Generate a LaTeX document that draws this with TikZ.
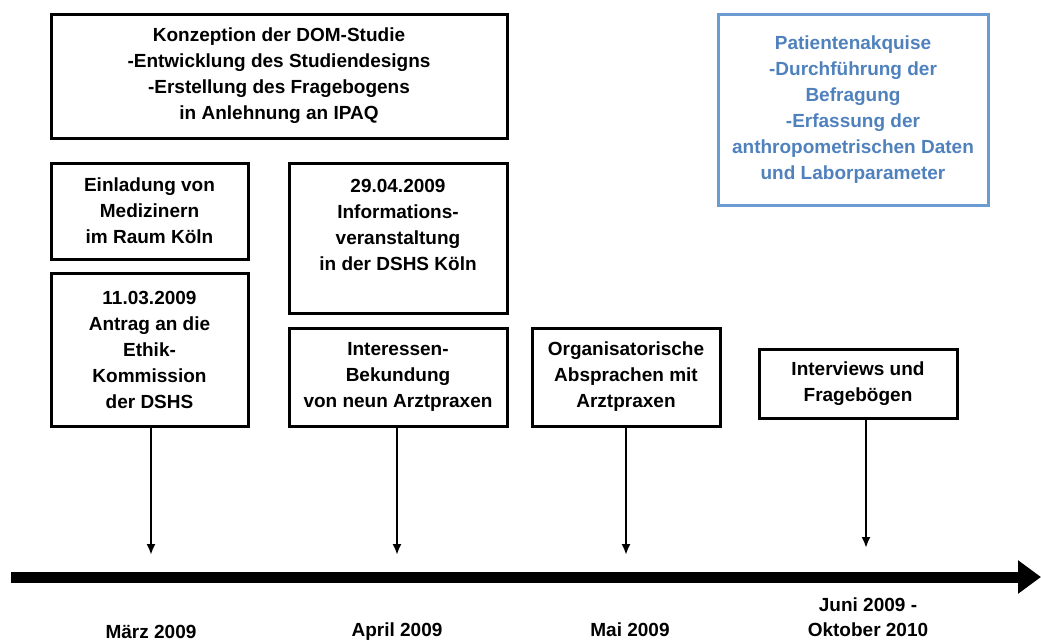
\documentclass[tikz,border=0pt]{standalone}
\usepackage{fontspec}
\setmainfont{Liberation Sans}
\usetikzlibrary{arrows.meta}
\definecolor{blautext}{RGB}{79,129,189}
\definecolor{blaurand}{RGB}{108,155,210}
\tikzset{
  kasten/.style={draw,line width=3pt,align=center,inner sep=0pt,
    font=\fontsize{19}{26}\selectfont\bfseries},
  pfeil/.style={line width=2.2pt,-{Latex[length=11pt,width=9pt]}},
  monat/.style={align=center,font=\fontsize{19}{25}\selectfont\bfseries}
}
\begin{document}
\begin{tikzpicture}[x=1pt,y=-1pt]
\useasboundingbox (0,0) rectangle (1041,641);
\node[kasten,minimum width=456,minimum height=124] (konzept) at (279,76) {Konzeption der DOM-Studie\\-Entwicklung des Studiendesigns\\-Erstellung des Fragebogens\\in Anlehnung an IPAQ};
\node[kasten,draw=blaurand,text=blautext,minimum width=270,minimum height=191] (akquise) at (853,110) {Patientenakquise\\-Durchführung der\\Befragung\\-Erfassung der\\anthropometrischen Daten\\und Laborparameter};
\node[kasten,minimum width=197,minimum height=96] (einladung) at (149.5,211) {Einladung von\\Medizinern\\im Raum Köln};
\node[kasten,minimum width=197,minimum height=153] (antrag) at (149.5,349.5) {11.03.2009\\Antrag an die\\Ethik-\\Kommission\\der DSHS};
\node[kasten,minimum width=218,minimum height=150] (info) at (398,238) {29.04.2009\\Informations-\\veranstaltung\\in der DSHS Köln\\\mbox{}};
\node[kasten,minimum width=218,minimum height=98] (interesse) at (398,377) {Interessen-\\Bekundung\\von neun Arztpraxen};
\node[kasten,minimum width=188,minimum height=98] (orga) at (626,377) {Organisatorische\\Absprachen mit\\Arztpraxen};
\node[kasten,minimum width=198,minimum height=69] (interviews) at (858,383.5) {Interviews und\\Fragebögen};
\coordinate (z1) at (151,555);
\coordinate (z2) at (397,555);
\coordinate (z3) at (626,555);
\coordinate (z4) at (866,548);
\draw[pfeil] (antrag.south -| z1) -- (z1);
\draw[pfeil] (interesse.south -| z2) -- (z2);
\draw[pfeil] (orga.south -| z3) -- (z3);
\draw[pfeil] (interviews.south -| z4) -- (z4);
\coordinate (achse0) at (11,577);
\coordinate (achse1) at (1041,577);
\draw[line width=11pt,-{Triangle[length=23pt,width=32pt]}] (achse0) -- (achse1);
\node[monat] (maerz) at (151,632) {März 2009};
\node[monat] (april) at (397,632) {April 2009};
\node[monat] (mai) at (630,630) {Mai 2009};
\node[monat] (juni) at (868,617) {Juni 2009 -\\Oktober 2010};
\end{tikzpicture}
\end{document}
